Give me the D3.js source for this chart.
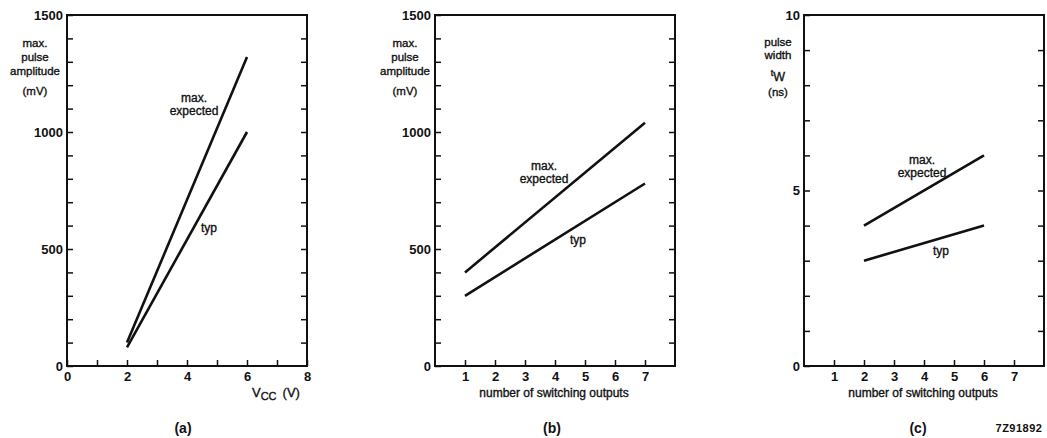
<!DOCTYPE html>
<html>
<head>
<meta charset="utf-8">
<script src="https://cdn.jsdelivr.net/npm/d3@7"></script>
<style>
  html, body { margin: 0; padding: 0; background: #fff; }
  svg { display: block; font-family: "Liberation Sans", Arial, sans-serif; }
  .label { stroke: #111; stroke-width: 0.35px; }
</style>
</head>
<body>
<svg id="chart" width="1047" height="438"></svg>
<script>
// (a) pulse amplitude vs supply voltage
const vccPoints = [2, 6]
const ampVccMax = [100, 1320]
const ampVccTyp = [80, 1000]

// (b) pulse amplitude vs switching outputs
const outputsB = [1, 7]
const ampOutMax = [400, 1040]
const ampOutTyp = [300, 780]

// (c) pulse width vs switching outputs
const outputsC = [2, 6]
const widthOutMax = [4, 6]
const widthOutTyp = [3, 4]

const mvMinorTicks = d3.range(0, 1501, 100)
const mvMajorTicks = [0, 500, 1000, 1500]
const nsMinorTicks = d3.range(0, 11, 1)
const nsMajorTicks = [0, 5, 10]
const vccTicks = d3.range(0, 9, 1)
const vccTickLabels = [0, 2, 4, 6, 8]
const outputTicks = [1, 2, 3, 4, 5, 6, 7]

const svg = d3.select("#chart")
const black = "#111"

const panels = [
  {
    left: 67, right: 307, top: 15, bottom: 366,
    yDomain: [0, 1500], yMinor: mvMinorTicks, yMajor: mvMajorTicks,
    xTicks: vccTicks, xLabels: vccTickLabels,
    series: [
      { x: vccPoints, y: ampVccMax },
      { x: vccPoints, y: ampVccTyp }
    ],
    maxLabel: [194, 102], typLabel: [209, 232],
    yTitle: ["max.", "pulse", "amplitude", "(mV)"], yTitleX: 35,
    caption: "(a)", captionX: 183
  },
  {
    left: 435, right: 675, top: 15, bottom: 366,
    yDomain: [0, 1500], yMinor: mvMinorTicks, yMajor: mvMajorTicks,
    xTicks: outputTicks, xLabels: outputTicks,
    series: [
      { x: outputsB, y: ampOutMax },
      { x: outputsB, y: ampOutTyp }
    ],
    maxLabel: [544, 170], typLabel: [578, 244],
    yTitle: ["max.", "pulse", "amplitude", "(mV)"], yTitleX: 405,
    xTitle: "number of switching outputs",
    caption: "(b)", captionX: 552
  },
  {
    left: 804, right: 1044, top: 15, bottom: 366,
    yDomain: [0, 10], yMinor: nsMinorTicks, yMajor: nsMajorTicks,
    xTicks: outputTicks, xLabels: outputTicks,
    series: [
      { x: outputsC, y: widthOutMax },
      { x: outputsC, y: widthOutTyp }
    ],
    maxLabel: [922, 164], typLabel: [941, 255],
    yTitle: null, yTitleX: 778,
    xTitle: "number of switching outputs",
    caption: "(c)", captionX: 918
  }
]

panels.forEach(drawPanel)

function drawPanel(p) {
  const x = d3.scaleLinear().domain([0, 8]).range([p.left, p.right])
  const y = d3.scaleLinear().domain(p.yDomain).range([p.bottom, p.top])

  // Left axis: inward minor ticks, labels on majors only
  const left = svg.append("g")
    .attr("transform", `translate(${p.left},0)`)
    .call(
      d3.axisLeft(y)
        .tickValues(p.yMinor)
        .tickSize(-6)
        .tickPadding(4)
        .tickFormat(d => p.yMajor.includes(d) ? d : "")
    )
  left.select(".domain").remove()

  // Right axis ticks, pointing inward
  const right = svg.append("g")
    .attr("transform", `translate(${p.right},0)`)
    .call(d3.axisRight(y).tickValues(p.yMinor.slice(1, -1)).tickSize(-6).tickFormat(""))
  right.select(".domain").remove()

  // Bottom axis ticks, pointing up
  const bottom = svg.append("g")
    .attr("transform", `translate(0,${p.bottom})`)
    .call(
      d3.axisBottom(x)
        .tickValues(p.xTicks)
        .tickSize(-6)
        .tickPadding(6)
        .tickFormat(d => p.xLabels.includes(d) ? d : "")
    )
  bottom.select(".domain").remove()

  svg.selectAll(".tick line")
    .attr("stroke", black)
    .attr("stroke-width", 1.5)

  svg.selectAll(".tick text")
    .attr("fill", black)
    .style("font-size", "13px")
    .style("font-weight", "bold")
    .style("font-family", "'Liberation Sans', Arial, sans-serif")

  // Frame
  svg.append("rect")
    .attr("x", p.left)
    .attr("y", p.top)
    .attr("width", p.right - p.left)
    .attr("height", p.bottom - p.top)
    .attr("fill", "none")
    .attr("stroke", black)
    .attr("stroke-width", 2)

  // Trend lines
  const line = d3.line()
    .x(d => x(d[0]))
    .y(d => y(d[1]))

  p.series.forEach(s => {
    svg.append("path")
      .datum(s.x.map((v, i) => [v, s.y[i]]))
      .attr("fill", "none")
      .attr("stroke", black)
      .attr("stroke-width", 2.6)
      .attr("d", line)
  })

  // Curve labels
  const addLabel = (tx, ty, t, size) => svg.append("text")
    .attr("class", "label")
    .attr("x", tx).attr("y", ty)
    .attr("text-anchor", "middle")
    .style("font-size", size)
    .attr("fill", black)
    .text(t)

  addLabel(p.maxLabel[0], p.maxLabel[1], "max.", "12px")
  addLabel(p.maxLabel[0], p.maxLabel[1] + 13, "expected", "12px")
  addLabel(p.typLabel[0], p.typLabel[1], "typ", "12px")

  // Y title
  if (p.yTitle) {
    const ys = [47, 61, 75, 95]
    p.yTitle.forEach((t, i) => addLabel(p.yTitleX, ys[i], t, "11.5px"))
  } else {
    addLabel(p.yTitleX, 46, "pulse", "11.5px")
    addLabel(p.yTitleX, 59, "width", "11.5px")
    const tw = svg.append("text")
      .attr("class", "label")
      .attr("x", p.yTitleX).attr("y", 81)
      .attr("text-anchor", "middle")
      .attr("fill", black)
    tw.append("tspan").style("font-size", "9px").attr("dy", -5).text("t")
    tw.append("tspan").style("font-size", "12.5px").attr("dy", 5).text("W")
    addLabel(p.yTitleX, 96, "(ns)", "11.5px")
  }

  // X title
  if (p.xTitle) {
    addLabel((p.left + p.right) / 2 - 1, 397, p.xTitle, "12px")
  } else {
    const vcc = svg.append("text")
      .attr("class", "label")
      .attr("x", 252).attr("y", 397)
      .attr("fill", black)
      .style("font-size", "13px")
    vcc.append("tspan").text("V")
    vcc.append("tspan").style("font-size", "11px").attr("dy", 3).text("CC")
    vcc.append("tspan").attr("dy", -3).attr("dx", 6).text("(V)")
  }

  // Caption
  svg.append("text")
    .attr("x", p.captionX).attr("y", 433)
    .attr("text-anchor", "middle")
    .style("font-size", "14px")
    .style("font-weight", "bold")
    .attr("fill", black)
    .text(p.caption)
}

svg.append("text")
  .attr("x", 1019).attr("y", 432)
  .attr("text-anchor", "middle")
  .style("font-size", "11px")
  .style("font-weight", "bold")
  .style("letter-spacing", "0.5px")
  .attr("fill", black)
  .text("7Z91892")
</script>
</body>
</html>
